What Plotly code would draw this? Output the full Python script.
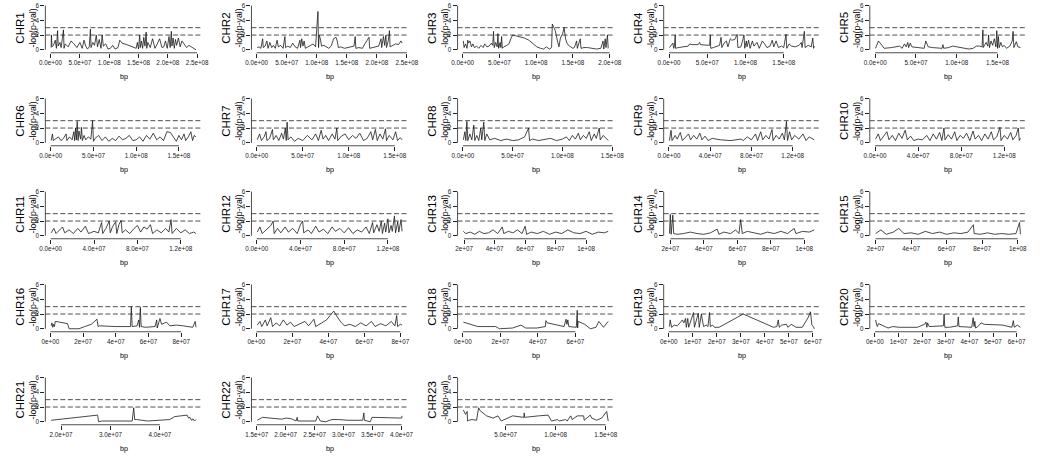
import plotly.graph_objects as go

# ---------------- data: (position in Mb, -log(p-val)) ----------------
chr1 = [(1,0.3),(1.5,2.0),(2.5,0.4),(5,0.6),(8,1.3),(10,0.2),(12,2.6),(13,0.5),(16,1.0),(18,0.3),(20,1.5),(22,2.7),(23,0.2),(25,0.8),(30,0.4),(35,1.2),(40,0.8),(45,0.3),(50,1.0),(54,0.2),(57,1.3),(60,0.5),(63,0.1),(66,0.4),(68,2.8),(69,0.3),(72,1.0),(75,0.6),(78,2.0),(80,0.4),(83,1.4),(86,0.2),(88,2.0),(90,0.5),(94,0.8),(98,0.1),(102,0.2),(106,0.6),(110,0.1),(115,0.3),(118,1.3),(122,0.9),(130,0.7),(140,0.4),(146,0.2),(148,1.0),(150,0.1),(152,2.0),(153,0.3),(155,1.2),(157,0.2),(159,1.7),(161,0.5),(163,2.4),(164,0.2),(166,1.0),(170,0.3),(174,1.5),(178,0.2),(182,0.8),(186,1.5),(190,0.3),(193,0.4),(196,1.2),(199,0.2),(202,1.8),(204,0.3),(206,2.5),(207,0.5),(209,1.6),(211,0.2),(213,1.4),(215,0.6),(218,1.6),(221,0.4),(224,1.2),(228,0.8),(232,0.3),(236,0.6),(242,0.3),(248,0.0)]
chr2 = [(1,0.3),(4,0.4),(7,0.2),(10,1.5),(11,0.3),(14,0.5),(17,1.2),(19,0.2),(22,1.0),(25,0.3),(28,0.6),(31,0.2),(34,1.3),(36,0.4),(40,0.6),(44,0.2),(47,1.8),(48,0.3),(52,0.5),(56,0.3),(60,0.9),(64,0.4),(68,0.2),(72,1.3),(73,0.3),(75,1.5),(77,0.5),(79,1.2),(81,0.2),(85,0.4),(90,0.6),(94,0.8),(98,0.4),(102,5.2),(103,0.3),(104,2.0),(106,1.5),(108,0.5),(112,0.6),(116,0.4),(120,0.2),(124,0.5),(128,1.5),(132,1.7),(134,1.2),(136,0.3),(140,0.4),(146,0.2),(152,0.3),(158,0.4),(162,0.5),(164,1.8),(165,0.2),(170,0.3),(176,0.2),(180,0.8),(184,1.4),(187,1.7),(188,0.2),(192,0.3),(197,0.4),(203,0.5),(207,1.5),(208,0.3),(211,1.8),(213,0.6),(215,2.0),(216,0.3),(219,1.2),(221,2.6),(222,0.4),(226,0.6),(231,0.8),(236,0.7),(240,1.2),(242,0.9)]
chr3 = [(1,1.2),(2,0.3),(4,0.8),(6,0.2),(7,1.3),(8,0.9),(10,1.2),(12,0.4),(14,0.8),(16,0.3),(19,0.5),(22,0.2),(25,0.6),(28,0.3),(30,0.8),(33,0.4),(36,0.5),(39,0.9),(41,0.6),(42,2.5),(43,0.3),(45,1.0),(47,0.4),(48,2.2),(49,0.2),(51,1.0),(52,0.3),(53,1.8),(54,0.2),(56,0.4),(60,0.6),(63,0.8),(66,1.6),(68,2.0),(72,1.9),(78,1.8),(84,1.6),(90,1.3),(96,0.8),(101,0.4),(106,0.2),(110,0.1),(114,0.4),(118,0.1),(120,0.2),(121,0.4),(122,3.5),(124,3.0),(126,2.6),(129,1.2),(131,0.4),(133,1.6),(136,2.2),(138,3.0),(140,1.5),(142,0.9),(144,0.6),(147,0.4),(150,0.2),(152,0.3),(155,1.2),(156,0.2),(160,1.5),(161,0.2),(165,0.3),(170,0.3),(176,0.2),(182,0.1),(188,0.2),(191,1.2),(192,0.1),(194,1.5),(195,0.3),(197,2.0),(198,0.2)]
chr4 = [(0.5,0.3),(3,0.6),(5,0.9),(6,0.2),(7,0.5),(8,2.0),(8.5,0.2),(12,0.3),(18,0.4),(25,0.5),(27,0.8),(30,0.7),(38,0.7),(40,1.0),(41,0.7),(50,0.7),(53,0.6),(54,2.0),(54.5,0.2),(58,0.3),(62,0.5),(66,0.6),(68,1.7),(69,0.3),(72,0.9),(75,1.2),(77,0.4),(80,1.5),(82,1.3),(86,1.4),(89,2.1),(90,0.3),(94,0.4),(98,2.0),(99,0.2),(101,1.2),(102,0.4),(104,1.3),(106,0.2),(109,1.2),(111,0.5),(115,1.0),(118,0.2),(122,1.2),(125,0.8),(128,0.3),(132,0.5),(135,1.3),(137,0.4),(140,1.2),(143,0.3),(147,0.5),(150,0.3),(153,2.1),(154,0.2),(157,0.8),(160,0.5),(165,0.4),(170,0.6),(173,1.0),(174,0.3),(177,2.5),(178,0.3),(182,0.6),(186,0.4),(188,1.6),(189,0.2),(190,0.5)]
chr5 = [(0.5,0.2),(4,1.2),(7,0.8),(11,0.2),(20,0.3),(30,0.5),(33,0.2),(36,0.8),(38,0.4),(40,1.0),(41,0.3),(43,0.9),(45,0.4),(50,0.3),(55,0.3),(60,0.2),(62,1.2),(65,0.4),(70,0.3),(78,0.3),(82,0.2),(83,0.7),(84,0.2),(90,0.3),(95,0.5),(100,0.4),(105,0.3),(110,0.2),(115,0.1),(120,0.2),(124,0.5),(128,0.5),(131,0.4),(132,2.7),(132.5,0.3),(134,0.6),(136,1.0),(138,0.5),(139,2.0),(140,0.3),(142,1.2),(144,0.6),(146,1.5),(148,0.4),(149,2.6),(150,0.2),(151,1.8),(152,0.3),(154,1.0),(156,0.4),(158,0.6),(161,0.2),(165,0.5),(168,1.2),(169,2.5),(170,0.3),(173,1.1),(175,0.4),(178,0.3)]
chr6 = [(0.5,0.3),(2,1.2),(3,0.3),(6,0.5),(9,0.8),(12,0.3),(15,0.6),(18,1.2),(19,0.3),(22,0.8),(25,0.4),(27,1.5),(28,0.3),(29,2.0),(30,0.4),(31,2.9),(32,0.3),(33,1.6),(35,0.5),(36,2.1),(37,0.3),(39,1.0),(41,0.4),(44,0.8),(47,0.5),(49,3.0),(50,0.2),(52,0.6),(56,1.0),(60,0.3),(64,0.8),(68,0.2),(72,0.6),(76,0.3),(80,0.9),(84,0.4),(88,0.6),(92,1.0),(96,0.3),(100,0.4),(104,0.8),(108,0.2),(112,1.0),(116,0.5),(120,1.3),(124,0.4),(128,0.8),(132,0.3),(136,1.5),(140,1.4),(144,0.6),(147,0.2),(150,1.0),(153,0.4),(156,1.2),(158,0.3),(161,0.8),(164,1.5),(166,0.3),(168,1.0),(170,0.8)]
chr7 = [(0.5,0.4),(3,1.2),(5,0.3),(8,0.8),(10,1.5),(11,0.3),(14,0.6),(17,1.8),(18,0.4),(21,1.0),(24,0.3),(27,1.3),(29,0.5),(31,2.0),(32,0.3),(33,2.8),(34,0.4),(37,0.8),(41,0.2),(45,0.6),(50,0.3),(55,1.0),(60,0.4),(64,1.2),(67,0.3),(70,1.7),(72,0.5),(75,1.0),(78,0.3),(82,1.2),(85,0.5),(87,2.0),(88,0.3),(92,0.9),(96,1.2),(100,0.4),(104,1.0),(108,0.6),(112,1.3),(116,0.3),(120,0.6),(124,1.5),(126,0.4),(129,1.8),(131,0.3),(134,1.2),(137,0.5),(140,1.9),(141,0.3),(144,1.0),(148,0.4),(151,1.5),(153,0.3),(156,0.7),(158,0.4)]
chr8 = [(0.5,0.4),(2,1.5),(3,0.3),(4,2.9),(5,0.3),(7,1.2),(9,0.4),(11,2.4),(12,0.3),(14,1.0),(16,0.3),(18,2.0),(19,0.4),(21,2.8),(22,0.3),(24,1.2),(27,0.4),(32,0.6),(38,0.3),(44,0.5),(50,0.3),(56,0.4),(62,0.8),(66,2.0),(67,0.3),(70,0.5),(76,0.3),(82,0.4),(88,0.6),(94,0.3),(100,0.5),(104,0.8),(107,0.3),(110,1.0),(113,0.5),(116,1.3),(118,0.4),(121,1.0),(124,0.6),(127,1.5),(129,0.3),(132,1.2),(134,0.6),(137,2.0),(138,0.4),(141,1.0),(144,0.6),(146,0.3)]
chr9 = [(0.5,0.3),(2,1.7),(3,0.3),(6,1.0),(8,0.5),(11,1.4),(13,0.3),(16,0.8),(19,1.2),(21,0.4),(24,1.0),(27,0.5),(30,1.3),(32,0.4),(35,0.9),(38,0.3),(42,0.6),(50,0.4),(60,0.3),(70,0.5),(72,0.3),(76,0.8),(80,0.4),(84,1.2),(86,0.3),(89,1.5),(91,0.4),(94,1.0),(97,0.5),(100,1.8),(101,0.3),(104,1.0),(107,0.5),(110,1.3),(112,0.4),(114,2.9),(115,0.3),(117,1.5),(119,0.4),(122,1.0),(126,0.5),(130,1.2),(133,0.3),(136,0.8),(139,0.5),(141,0.4)]
chr10 = [(0.5,0.5),(3,1.2),(5,0.3),(8,0.9),(11,1.5),(13,0.4),(16,1.0),(19,0.3),(22,1.3),(25,0.6),(28,1.7),(30,0.4),(33,0.9),(36,0.3),(40,0.5),(44,0.4),(48,1.0),(51,0.3),(54,1.2),(57,0.5),(60,1.4),(62,0.3),(64,2.0),(65,0.4),(68,1.1),(71,0.5),(74,1.5),(76,0.3),(79,1.0),(82,0.6),(85,1.3),(88,0.3),(91,1.6),(93,0.5),(96,1.0),(99,0.3),(102,1.2),(105,0.5),(108,1.5),(110,0.4),(113,0.8),(116,2.1),(117,0.3),(120,1.0),(123,0.5),(126,1.4),(128,0.4),(131,1.0),(133,2.0),(134,0.3),(135,0.6)]
chr11 = [(0.5,0.4),(3,1.0),(5,0.3),(8,0.7),(11,1.2),(13,0.4),(17,0.8),(21,0.3),(25,1.0),(28,0.5),(32,1.3),(35,0.3),(40,0.6),(44,0.4),(47,1.8),(48,0.3),(51,1.0),(54,2.0),(55,0.4),(57,1.2),(60,1.9),(61,0.3),(63,1.5),(65,2.1),(66,0.4),(69,0.8),(73,0.3),(77,1.0),(80,1.4),(83,0.5),(86,1.2),(89,0.9),(92,1.5),(94,0.3),(98,0.8),(102,0.4),(106,1.0),(109,0.5),(111,2.2),(112,0.3),(116,1.0),(120,0.4),(124,0.8),(128,0.3),(132,0.5),(134,0.3)]
chr12 = [(0.5,0.5),(3,1.2),(5,0.3),(9,0.8),(13,1.4),(15,2.0),(16,0.3),(19,1.0),(22,0.4),(26,1.2),(29,0.5),(33,1.0),(37,0.3),(40,1.5),(42,2.0),(43,0.4),(47,0.8),(50,0.3),(54,1.3),(57,0.5),(61,0.9),(65,0.3),(69,1.2),(72,0.6),(76,1.0),(80,0.4),(84,1.1),(88,0.3),(92,0.8),(96,0.5),(100,1.2),(103,0.3),(106,1.8),(107,0.4),(110,1.5),(112,0.6),(114,2.0),(115,0.3),(117,1.7),(118,0.5),(120,2.3),(121,0.4),(123,1.4),(124,0.6),(126,2.7),(127,0.4),(129,1.9),(130,0.5),(132,2.2),(133,0.6)]
chr13 = [(19.5,0.6),(21,0.3),(24,0.5),(27,0.2),(30,0.6),(33,0.3),(36,0.4),(39,0.8),(42,0.3),(45,1.2),(46,0.3),(49,0.6),(52,0.4),(55,0.8),(58,0.3),(60,1.3),(61,0.2),(64,0.5),(68,0.3),(72,0.6),(76,0.2),(80,0.5),(84,0.3),(88,0.8),(92,0.4),(96,0.3),(100,0.6),(104,0.2),(108,0.5),(112,0.4),(114.5,0.6)]
chr14 = [(19.5,0.3),(20,2.9),(20.5,0.2),(21.5,2.8),(22,0.3),(24,0.2),(28,0.3),(32,0.5),(36,0.3),(40,0.2),(44,0.4),(48,0.9),(49,0.2),(52,0.5),(56,0.3),(59,0.8),(61,0.3),(62,2.2),(63,0.3),(66,0.6),(70,0.4),(74,0.2),(78,0.5),(82,0.3),(86,0.6),(90,0.3),(94,1.0),(95,0.3),(99,0.6),(103,0.5),(106,0.8)]
chr15 = [(20,0.3),(23,0.8),(26,0.2),(30,0.5),(33,1.0),(36,0.3),(40,0.4),(44,0.2),(48,0.6),(52,0.3),(56,0.5),(60,0.2),(64,0.4),(68,0.3),(72,0.5),(75,1.5),(75.5,0.3),(79,0.2),(83,0.4),(87,0.2),(91,0.3),(95,0.2),(99,0.3),(101,1.8),(101.5,0.2)]
chr16 = [(0.5,0.4),(1,0.8),(1.5,0.2),(2,0.6),(2.5,0.3),(3,1.0),(5.5,0.9),(10.5,0.7),(11.5,0.0),(17.5,0.0),(21,0.3),(25,0.6),(28.5,1.3),(29.2,0.3),(30,0.4),(35,0.3),(40,0.3),(45,0.3),(49,0.3),(49.5,3.0),(50,0.3),(53,0.4),(54,1.2),(54.5,0.2),(55,2.9),(55.5,0.3),(58,0.2),(64,0.3),(65,1.2),(65.3,0.1),(67,1.4),(68,0.6),(71,0.9),(73,0.4),(77,0.5),(81,0.4),(87,0.2),(88.5,1.0),(89,0.2)]
chr17 = [(0.5,0.5),(2,1.0),(3,0.3),(5,1.2),(6,0.4),(8,1.5),(9,0.3),(11,0.8),(13,0.4),(15,1.2),(17,0.5),(19,0.9),(21,0.3),(24,0.6),(27,1.0),(29,0.4),(32,1.3),(33,0.3),(36,0.7),(39,1.2),(41,1.8),(43,2.4),(45,1.6),(47,0.9),(49,0.4),(52,0.6),(55,0.3),(58,0.8),(61,0.4),(64,1.0),(66,0.3),(69,0.7),(72,0.4),(75,1.0),(77,0.4),(78,1.8),(78.5,0.3),(80,0.6),(81,0.5)]
chr18 = [(0.3,0.9),(8,0.3),(17.5,0.3),(19.5,0.0),(26.5,0.1),(31,0.5),(33.5,0.1),(39.5,0.1),(44,0.3),(44.3,1.1),(45,0.8),(54,0.3),(55,1.3),(55.5,0.6),(56,1.2),(56.5,0.3),(60.5,0.2),(61,2.5),(61.2,0.1),(61.5,1.0),(65,0.6),(68,0.0),(71,0.2),(72.5,1.0),(75,0.2),(77.5,1.0)]
chr19 = [(0.3,0.3),(0.6,1.2),(1.2,0.2),(2.3,0.5),(3.6,0.4),(5,1.0),(5.7,1.2),(6.3,0.8),(7,1.4),(7.3,0.2),(7.9,1.4),(8.3,0.2),(10.3,2.2),(10.7,0.2),(12.3,2.1),(12.7,0.2),(13.6,2.0),(14,1.2),(14.5,0.3),(15.6,0.5),(16.3,0.3),(17,2.2),(17.3,0.3),(18.3,0.5),(19,0.2),(21,0.2),(31,2.0),(43.6,0.2),(45,0.3),(45.6,1.2),(46,0.2),(47,0.5),(49,0.6),(49.6,0.2),(51,0.6),(53,0.2),(55.6,0.2),(58,1.5),(59,2.3),(59.6,0.5),(60.2,0.3),(60.6,0.0)]
chr20 = [(0.3,1.2),(1,0.3),(1.6,0.7),(5.6,0.1),(7.6,0.3),(10.3,0.2),(18,0.2),(21,0.6),(21.6,0.9),(22,0.2),(22.3,0.8),(23,0.3),(29,0.4),(29.3,2.0),(29.6,0.2),(31.6,0.2),(35,0.4),(35.3,1.6),(35.6,0.3),(39.6,0.2),(41,0.2),(41.6,1.5),(42,0.3),(42.3,1.0),(42.6,0.1),(43.6,0.3),(45,0.8),(46.3,0.6),(50.3,0.6),(54,0.5),(58,0.2),(58.6,1.1),(59,0.2),(60.3,0.5),(61.6,0.2)]
chr21 = [(18,0.2),(27.4,0.9),(27.6,0.0),(28.2,0.1),(34.4,0.1),(34.7,1.9),(34.9,0.3),(35.3,0.3),(37.5,0.1),(40,0.2),(42,0.3),(43,0.7),(45.2,0.8),(45.5,0.9),(45.8,0.5),(46.1,0.6),(46.4,0.2),(46.7,0.4),(47,0.1),(47.3,0.3)]
chr22 = [(15.1,0.2),(16,0.6),(17.3,0.5),(18.5,0.4),(19.3,0.35),(20.1,0.5),(21,0.4),(21.8,0.1),(22,0.6),(22.1,0.1),(23.5,0.1),(25.2,0.1),(25.5,0.8),(26,0.1),(26.9,0.0),(28,0.3),(29.1,0.3),(30.8,0.2),(33.3,0.2),(33.5,1.2),(33.6,0.2),(34.6,0.0),(34.9,0.6),(35.7,0.6),(38,0.6),(40,0.5),(40.1,0.8)]
chr23 = [(7.8,1.6),(10,1.0),(11.6,1.4),(12,0.1),(13.3,0.2),(16.5,0.3),(21,0.2),(23,1.9),(24.6,1.5),(31,0.8),(37.5,0.5),(42.4,0.8),(45.6,0.1),(50.5,0.4),(57,0.8),(68.3,0.6),(68.6,1.2),(69,0.6),(83,0.8),(92.5,0.9),(95.8,0.1),(102,0.3),(103.5,0.1),(110,0.3),(111.5,0.1),(115,0.8),(116.5,0.3),(121.7,0.8),(128,0.8),(128.5,0.2),(134.6,0.9),(136,0.5),(141,0.2),(146,0.5),(151,1.4),(152.5,0.1)]

# x tick labels per chromosome
ticks_a = ["0.0e+00", "5.0e+07", "1.0e+08", "1.5e+08", "2.0e+08", "2.5e+08"]
ticks_b = ["0.0e+00", "4.0e+07", "8.0e+07", "1.2e+08"]
ticks_c = ["2e+07", "4e+07", "6e+07", "8e+07", "1e+08"]
ticks_d = ["0e+00", "2e+07", "4e+07", "6e+07", "8e+07"]
ticks_e = ["0e+00", "1e+07", "2e+07", "3e+07", "4e+07", "5e+07", "6e+07"]
ticks_21 = ["2.0e+07", "3.0e+07", "4.0e+07"]
ticks_22 = ["1.5e+07", "2.0e+07", "2.5e+07", "3.0e+07", "3.5e+07", "4.0e+07"]
ticks_23 = ["5.0e+07", "1.0e+08", "1.5e+08"]

chrom_data = [chr1, chr2, chr3, chr4, chr5, chr6, chr7, chr8, chr9, chr10, chr11, chr12,
              chr13, chr14, chr15, chr16, chr17, chr18, chr19, chr20, chr21, chr22, chr23]
chrom_ticks = [ticks_a, ticks_a, ticks_a[:5], ticks_a[:4], ticks_a[:4], ticks_a[:4], ticks_a[:4], ticks_a[:4],
               ticks_b, ticks_b, ticks_b, ticks_b, ticks_c, ticks_c, ticks_c, ticks_d, ticks_d, ticks_d[:4],
               ticks_e, ticks_e, ticks_21, ticks_22, ticks_23]
thresholds = [2, 3]
y_ticks = [0, 2, 4, 6]

# ---------------- layout geometry (pixels) ----------------
W, H = 1050, 457
FONT = "Arial, Liberation Sans, sans-serif"
col_left = [40 + 209.5 * c for c in range(5)]
plot_w = 159
row_y0 = [48 + 93.4 * r for r in range(5)]
ppu = 7.4
y_lo = -3 / ppu
y_hi = 6.24

fig = go.Figure()
shapes, annotations = [], []
layout_axes = {}

for i, (pts, tl) in enumerate(zip(chrom_data, chrom_ticks)):
    r, c = divmod(i, 5)
    idx = i + 1
    xs = [p[0] * 1e6 for p in pts]
    ys = [p[1] for p in pts]
    xa = "x" if idx == 1 else f"x{idx}"
    ya = "y" if idx == 1 else f"y{idx}"
    xkey = "xaxis" if idx == 1 else f"xaxis{idx}"
    ykey = "yaxis" if idx == 1 else f"yaxis{idx}"

    left = col_left[c]
    y0 = row_y0[r]
    top_px = y0 - y_hi * ppu
    bot_px = y0 - y_lo * ppu
    xmin, xmax = min(xs), max(xs)
    span = xmax - xmin
    tv = [float(t) for t in tl]

    fig.add_trace(go.Scatter(x=xs, y=ys, mode="lines", xaxis=xa, yaxis=ya,
                             line=dict(color="#1a1a1a", width=0.8), showlegend=False,
                             hoverinfo="skip"))

    layout_axes[xkey] = dict(domain=[left / W, (left + plot_w) / W], anchor=ya,
                             range=[xmin - 0.04 * span, xmax + 0.04 * span],
                             tickvals=tv, ticktext=tl, ticks="outside", ticklen=4,
                             tickwidth=0.8, tickcolor="#222", showline=False,
                             showgrid=False, zeroline=False,
                             tickfont=dict(size=6.3, color="#222", family=FONT))
    layout_axes[ykey] = dict(domain=[1 - bot_px / H, 1 - top_px / H], anchor=xa,
                             range=[y_lo, y_hi], tickvals=y_ticks,
                             ticktext=[str(v) for v in y_ticks], ticks="outside",
                             ticklen=4, tickwidth=0.8, tickcolor="#222",
                             showline=False, showgrid=False, zeroline=False,
                             tickfont=dict(size=6.3, color="#222", family=FONT))

    # axis lines, R style (from first to last tick)
    shapes.append(dict(type="line", xref=f"{xa} domain", yref=ya, x0=0, x1=0,
                       y0=y_ticks[0], y1=y_ticks[-1], line=dict(color="#222", width=0.8)))
    shapes.append(dict(type="line", xref=xa, yref=f"{ya} domain", x0=tv[0], x1=tv[-1],
                       y0=0, y1=0, line=dict(color="#222", width=0.8)))
    for th in thresholds:
        shapes.append(dict(type="line", xref=f"{xa} domain", yref=ya, x0=0, x1=1,
                           y0=th, y1=th, line=dict(color="#222", width=0.8, dash="5px,2.5px")))

    cy = 1 - (y0 - 22) / H
    annotations.append(dict(text=f"CHR{idx}", xref="paper", yref="paper",
                            x=(left - 26) / W, y=cy, textangle=-90, showarrow=False,
                            xanchor="center", yanchor="middle",
                            font=dict(size=11.5, color="#000000", family=FONT)))
    annotations.append(dict(text="-log(p-val)", xref="paper", yref="paper",
                            x=(left - 13) / W, y=cy, textangle=-90, showarrow=False,
                            xanchor="center", yanchor="middle",
                            font=dict(size=8.7, color="#000000", family=FONT)))
    annotations.append(dict(text="bp", xref="paper", yref="paper",
                            x=(left + plot_w / 2) / W, y=1 - (y0 + 27) / H, showarrow=False,
                            xanchor="center", yanchor="middle",
                            font=dict(size=7.2, color="#000000", family=FONT)))

fig.update_layout(width=W, height=H, margin=dict(l=0, r=0, t=0, b=0),
                  paper_bgcolor="white", plot_bgcolor="white",
                  shapes=shapes, annotations=annotations, **layout_axes)

fig.write_html("out.html", config={"displayModeBar": False},
               post_script="document.body.style.margin='0px';")
